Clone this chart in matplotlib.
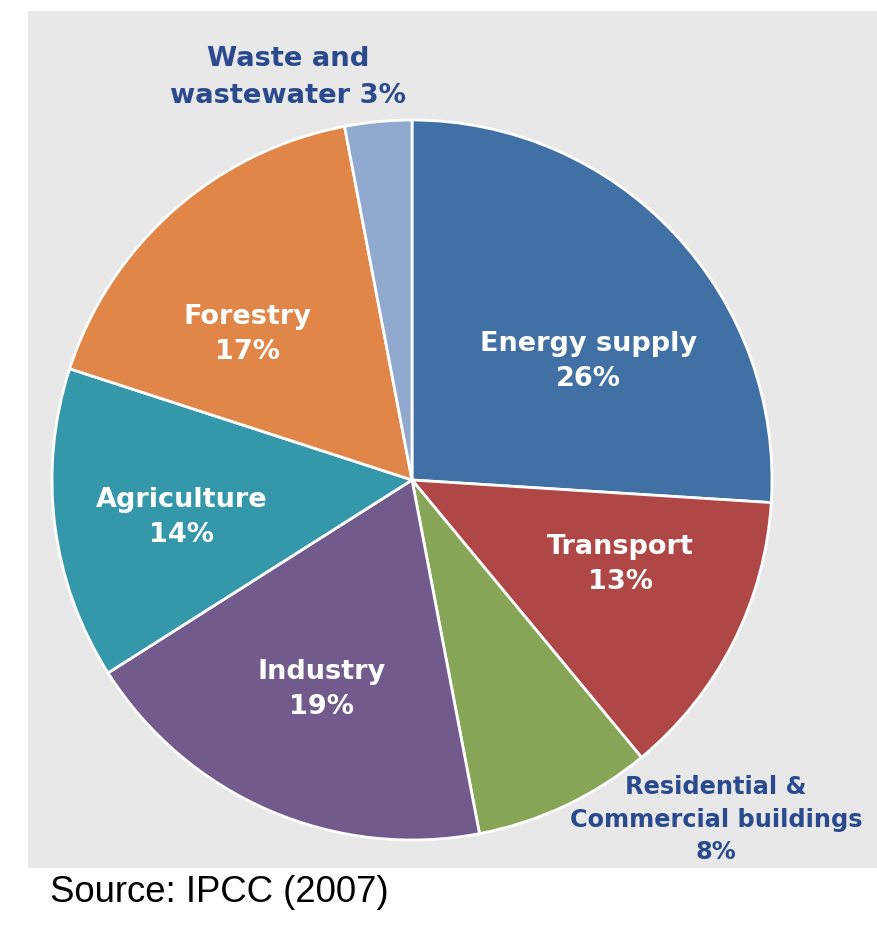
import matplotlib.pyplot as plt

# Sectors, clockwise from 12 o'clock
sectors = ["Energy supply", "Transport", "Residential &\nCommercial buildings",
           "Industry", "Agriculture", "Forestry", "Waste and\nwastewater"]
shares = [26, 13, 8, 19, 14, 17, 3]
colors = ["#4171a4", "#ae4746", "#87a557", "#735a8c", "#3498aa", "#e08649", "#91a8cf"]

# label placement (data coords of the unit pie) and styling
label_xy = [(0.489, 0.328), (0.578, -0.236), (0.844, -0.944), (-0.25, -0.583),
            (-0.639, -0.103), (-0.458, 0.403), (-0.344, 1.117)]
label_size = [19.5, 19.5, 17.3, 19.5, 19.5, 19.5, 19.7]
inside = [True, True, False, True, True, True, False]

fig = plt.figure(figsize=(8.77, 9.34), dpi=100)
fig.patch.set_facecolor("white")

# grey panel behind the pie
bg = fig.add_axes([28 / 877, 66 / 934, 849 / 877, 857 / 934])
bg.set_facecolor("#e8e8e8")
bg.set_xticks([])
bg.set_yticks([])
for s in bg.spines.values():
    s.set_visible(False)

ax = fig.add_axes([52 / 877, 94 / 934, 720 / 877, 720 / 934])
ax.set_facecolor("none")
ax.pie(shares, colors=colors, startangle=90, counterclock=False, radius=1,
       wedgeprops=dict(edgecolor="white", linewidth=2))
ax.set_xlim(-1, 1)
ax.set_ylim(-1, 1)
ax.set_aspect("auto")
ax.axis("off")

for name, val, (x, y), fs, ins in zip(sectors, shares, label_xy, label_size, inside):
    if name.startswith("Waste"):
        txt = "Waste and\nwastewater %d%%" % val
        ls = 1.55
    else:
        txt = "%s\n%d%%" % (name, val)
        ls = 1.45 if ins else 1.45
    ax.text(x, y, txt, ha="center", va="center", fontweight="bold", fontsize=fs,
            color="white" if ins else "#2b4a8e", linespacing=ls, clip_on=False)

fig.text(50 / 877, 1 - 893 / 934, "Source: IPCC (2007)", ha="left", va="center",
         fontsize=26.3, family="Liberation Sans", color="black")

fig.savefig("out.png", dpi=100)
